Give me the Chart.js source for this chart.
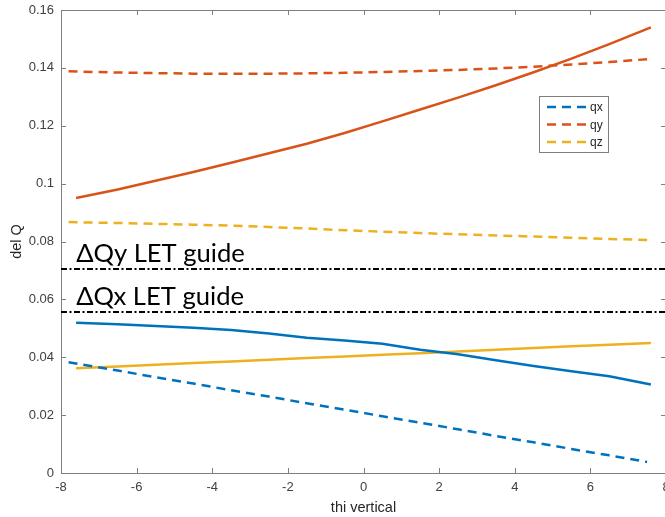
<!DOCTYPE html>
<html>
<head>
<meta charset="utf-8">
<script src="https://cdn.jsdelivr.net/npm/chart.js@4.4.1/dist/chart.umd.min.js"></script>
<style>
  html, body { margin: 0; padding: 0; background: #fff; overflow: hidden; }
  #wrap { width: 670px; height: 517px; }
</style>
</head>
<body>
<div id="wrap"><canvas id="deltaQChart" width="670" height="517"></canvas></div>
<script>
// x positions (thi vertical) of the sampled points
const solidX  = [-7.6, -6.5, -5.5, -4.5, -3.5, -2.5, -1.5, -0.5, 0.5, 1.5, 2.5, 3.5, 4.5, 5.5, 6.5, 7.6];
const dashedX = [-7.8, -6.5, -5.5, -4.5, -3.5, -2.5, -1.5, -0.5, 0.5, 1.5, 2.5, 3.5, 4.5, 5.5, 6.5, 7.5];

// solid curves
const qxSolid = [0.0519, 0.0514, 0.0508, 0.0502, 0.0494, 0.0482, 0.0467, 0.0458, 0.0447, 0.0426, 0.0410, 0.0390, 0.0370, 0.0352, 0.0334, 0.0306];
const qySolid = [0.0950, 0.0980, 0.1010, 0.1040, 0.1072, 0.1105, 0.1138, 0.1175, 0.1215, 0.1256, 0.1297, 0.1340, 0.1385, 0.1432, 0.1482, 0.1540];
const qzSolid = [0.0362, 0.0368, 0.0374, 0.0380, 0.0385, 0.0391, 0.0397, 0.0403, 0.0409, 0.0414, 0.0420, 0.0426, 0.0432, 0.0438, 0.0443, 0.0449];

// dashed curves (these are the legend entries)
const qxDashed = [0.0383, 0.0354, 0.0331, 0.0309, 0.0286, 0.0264, 0.0241, 0.0219, 0.0196, 0.0174, 0.0151, 0.0128, 0.0106, 0.0083, 0.0061, 0.0038];
const qyDashed = [0.1388, 0.1384, 0.1382, 0.1380, 0.1380, 0.1380, 0.1381, 0.1383, 0.1386, 0.1389, 0.1393, 0.1398, 0.1404, 0.1412, 0.1420, 0.1430];
const qzDashed = [0.0867, 0.0864, 0.0861, 0.0858, 0.0855, 0.0850, 0.0845, 0.0839, 0.0834, 0.0829, 0.0825, 0.0821, 0.0817, 0.0813, 0.0809, 0.0805];

// LET guide levels
const letLevels = [0.0705, 0.0556];
const letLabels = ['ΔQy LET guide', 'ΔQx LET guide'];

const xTicks = [-8, -6, -4, -2, 0, 2, 4, 6, 8];
const yTicks = [0, 0.02, 0.04, 0.06, 0.08, 0.1, 0.12, 0.14, 0.16];

const BLUE = '#0072BD', RED = '#D95319', YELLOW = '#EDB120';
const DASH = [9, 6];
const axisGrey = '#7f7f7f';
const tickFont = { family: '"Liberation Sans", Arial, sans-serif', size: 13 };

function pts(xs, ys) {
    return xs.map((x, i) => ({ x: x, y: ys[i] }));
}

function line(label, xs, ys, color, dash, inLegend) {
    return {
        label: label,
        data: pts(xs, ys),
        borderColor: color,
        borderWidth: 2.5,
        borderDash: dash,
        pointRadius: 0,
        tension: 0,
        fill: false,
        inLegend: inLegend
    };
}

const datasets = [
    line('qx', dashedX, qxDashed, BLUE, DASH, true),
    line('qy', dashedX, qyDashed, RED, DASH, true),
    line('qz', dashedX, qzDashed, YELLOW, DASH, true),
    line('qx solid', solidX, qxSolid, BLUE, [], false),
    line('qy solid', solidX, qySolid, RED, [], false),
    line('qz solid', solidX, qzSolid, YELLOW, [], false)
];
letLevels.forEach((v, i) => {
    datasets.push({
        label: letLabels[i],
        data: [{ x: -8, y: v }, { x: 8, y: v }],
        borderColor: '#000',
        borderWidth: 2,
        borderDash: [6, 2.5, 2, 2.5],
        pointRadius: 0,
        inLegend: false
    });
});

// box around the axes with inward ticks, matlab style
const axesFrame = {
    id: 'axesFrame',
    beforeDatasetsDraw(chart) {
        const { ctx, chartArea: a, scales: { x, y } } = chart;
        ctx.save();
        ctx.strokeStyle = axisGrey;
        ctx.lineWidth = 1;
        ctx.strokeRect(a.left + 0.5, a.top + 0.5, a.right - a.left, a.bottom - a.top);
        ctx.beginPath();
        xTicks.forEach(v => {
            const px = Math.round(x.getPixelForValue(v)) + 0.5;
            ctx.moveTo(px, a.bottom); ctx.lineTo(px, a.bottom - 5);
            ctx.moveTo(px, a.top); ctx.lineTo(px, a.top + 5);
        });
        yTicks.forEach(v => {
            const py = Math.round(y.getPixelForValue(v)) + 0.5;
            ctx.moveTo(a.left, py); ctx.lineTo(a.left + 5, py);
            ctx.moveTo(a.right, py); ctx.lineTo(a.right - 5, py);
        });
        ctx.stroke();
        ctx.restore();
    }
};

// big text over the LET lines
const letText = {
    id: 'letText',
    afterDatasetsDraw(chart) {
        const { ctx, scales: { x, y } } = chart;
        ctx.save();
        ctx.font = '24px Lato, sans-serif';
        const w = ctx.measureText(letLabels[0]).width;
        ctx.font = (24 * 169 / w).toFixed(1) + 'px Lato, sans-serif';
        ctx.fillStyle = '#000';
        ctx.textBaseline = 'alphabetic';
        letLevels.forEach((v, i) => {
            ctx.fillText(letLabels[i], x.getPixelForValue(-7.6), y.getPixelForValue(v) - 7);
        });
        ctx.restore();
    }
};

// small boxed legend inside the axes
const boxLegend = {
    id: 'boxLegend',
    afterDraw(chart) {
        const ctx = chart.ctx;
        const items = chart.data.datasets.filter(d => d.inLegend);
        const left = 539, top = 96, w = 69, h = 56;
        ctx.save();
        ctx.fillStyle = '#fff';
        ctx.fillRect(left, top, w, h);
        ctx.strokeStyle = axisGrey;
        ctx.lineWidth = 1;
        ctx.strokeRect(left + 0.5, top + 0.5, w, h);
        items.forEach((d, i) => {
            const cy = top + 11 + i * 17.5;
            ctx.strokeStyle = d.borderColor;
            ctx.lineWidth = 2.5;
            ctx.setLineDash(DASH);
            ctx.beginPath();
            ctx.moveTo(left + 8, cy);
            ctx.lineTo(left + 48, cy);
            ctx.stroke();
            ctx.setLineDash([]);
            ctx.fillStyle = '#262626';
            ctx.font = '12px "Liberation Sans", Arial, sans-serif';
            ctx.textBaseline = 'middle';
            ctx.fillText(d.label, left + 51, cy + 1);
        });
        ctx.restore();
    }
};

const ctx = document.getElementById('deltaQChart').getContext('2d');

const deltaQChart = new Chart(ctx, {
    type: 'line',
    data: { datasets: datasets },
    options: {
        responsive: false,
        animation: false,
        devicePixelRatio: 1,
        layout: { padding: { top: 10, right: 4, left: 0, bottom: 0 } },
        plugins: {
            legend: { display: false },
            tooltip: { enabled: false }
        },
        scales: {
            x: {
                type: 'linear',
                min: -8,
                max: 8,
                afterBuildTicks: s => { s.ticks = xTicks.map(v => ({ value: v })); },
                afterFit: s => { s.height = 44; s.paddingLeft = 0; s.paddingRight = 0; },
                grid: { display: false, drawTicks: false },
                border: { display: false },
                ticks: { font: tickFont, color: '#404040', padding: 7, maxRotation: 0 },
                title: {
                    display: true,
                    text: 'thi vertical',
                    font: { family: '"Liberation Sans", Arial, sans-serif', size: 14.5 },
                    color: '#262626',
                    padding: { top: 0, bottom: 0 }
                }
            },
            y: {
                type: 'linear',
                min: 0,
                max: 0.16,
                afterBuildTicks: s => { s.ticks = yTicks.map(v => ({ value: v })); },
                afterFit: s => { s.width = 61; s.paddingTop = 0; s.paddingBottom = 0; },
                grid: { display: false, drawTicks: false },
                border: { display: false },
                ticks: {
                    font: tickFont,
                    color: '#404040',
                    padding: 7,
                    callback: v => String(Number(v.toFixed(2)))
                },
                title: {
                    display: true,
                    text: 'del Q',
                    font: { family: '"Liberation Sans", Arial, sans-serif', size: 14.5 },
                    color: '#262626',
                    padding: { top: 8, bottom: 0 }
                }
            }
        }
    },
    plugins: [axesFrame, letText, boxLegend]
});
</script>
</body>
</html>
